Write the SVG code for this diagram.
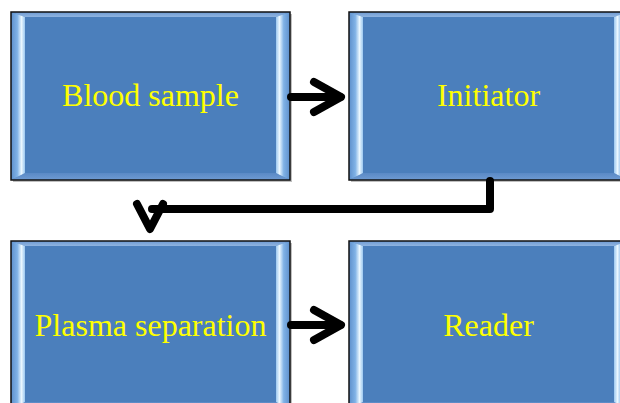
<svg xmlns="http://www.w3.org/2000/svg" width="620" height="403" viewBox="0 0 620 403">
<defs>
<linearGradient id="gl" x1="0" y1="0" x2="1" y2="0">
<stop offset="0" stop-color="#5d8fcb"/>
<stop offset="0.45" stop-color="#80b2e6"/>
<stop offset="0.75" stop-color="#eaf7ff"/>
<stop offset="1" stop-color="#9cc8f0"/>
</linearGradient>
<linearGradient id="gr" x1="1" y1="0" x2="0" y2="0">
<stop offset="0" stop-color="#5d8fcb"/>
<stop offset="0.45" stop-color="#80b2e6"/>
<stop offset="0.75" stop-color="#eaf7ff"/>
<stop offset="1" stop-color="#9cc8f0"/>
</linearGradient>
<linearGradient id="gt" x1="0" y1="0" x2="0" y2="1">
<stop offset="0" stop-color="#6e9ad2"/>
<stop offset="1" stop-color="#8fb4e0"/>
</linearGradient>
<linearGradient id="gb" x1="0" y1="0" x2="0" y2="1">
<stop offset="0" stop-color="#5a8ac6"/>
<stop offset="1" stop-color="#6f9bd3"/>
</linearGradient>
<g id="bevel">
<rect x="2" y="2" width="279" height="168" fill="#000" opacity="0.25"/>
<rect x="0" y="0" width="279" height="168" fill="#4b7fbc"/>
<polygon points="0,0 279,0 265,5 14,5" fill="url(#gt)"/>
<polygon points="0,168 14,161 265,161 279,168" fill="url(#gb)"/>
<polygon points="0,0 14,5 14,161 0,168" fill="url(#gl)"/>
<polygon points="279,0 265,5 265,161 279,168" fill="url(#gr)"/>
<rect x="0" y="0" width="279" height="168" fill="none" stroke="#111" stroke-width="1.5"/>
</g>
</defs>
<style>
.lbl{font-family:"Liberation Serif","Times New Roman",serif;font-size:32px;fill:#ffff00;text-anchor:middle}
.con{fill:none;stroke:#000;stroke-width:8;stroke-linecap:round;stroke-linejoin:round}
</style>
<g id="node-blood">
<use href="#bevel" transform="translate(11,12)"/>
<text class="lbl" x="150.5" y="106">Blood sample</text>
</g>
<g id="node-initiator">
<use href="#bevel" transform="translate(349,12)"/>
<text class="lbl" x="488.5" y="106">Initiator</text>
</g>
<g id="node-plasma">
<use href="#bevel" transform="translate(11,241)"/>
<text class="lbl" x="150.5" y="336">Plasma separation</text>
</g>
<g id="node-reader">
<use href="#bevel" transform="translate(349,241)"/>
<text class="lbl" x="488.5" y="336">Reader</text>
</g>
<g id="connectors">
<path class="con" d="M291,97 H340"/>
<polyline class="con" points="314,82 341,97 314,112"/>
<path class="con" d="M490,181 V209 H152"/>
<polyline class="con" points="137,204 150,229 163,204"/>
<path class="con" d="M291,325 H340"/>
<polyline class="con" points="314,310 341,325 314,340"/>
</g>
</svg>
